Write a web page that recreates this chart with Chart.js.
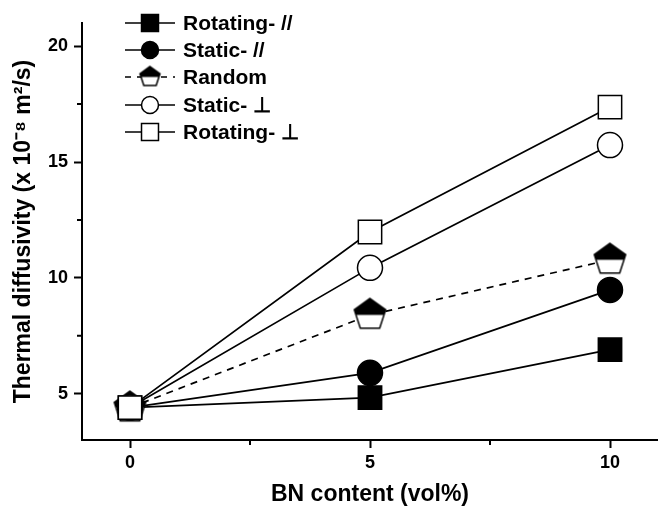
<!DOCTYPE html>
<html>
<head>
<meta charset="utf-8">
<script src="https://cdn.jsdelivr.net/npm/chart.js@4"></script>
<style>
  html, body { margin: 0; padding: 0; background: #fff; }
  #wrap { width: 658px; height: 508px; }
</style>
</head>
<body>
<div id="wrap"><canvas id="chart" width="658" height="508"></canvas></div>
<script>
// BN content (vol%)
const bnContent = [0, 5, 10]
// thermal diffusivity (x 10^-8 m2/s)
const rotatingPar = [4.4, 4.83, 6.9]
const staticPar = [4.4, 5.9, 9.48]
const randomOri = [4.4, 8.4, 10.78]
const staticPerp = [4.4, 10.43, 15.73]
const rotatingPerp = [4.4, 11.98, 17.37]

const seriesNames = ['Rotating- //', 'Static- //', 'Random', 'Static- \u22A5', 'Rotating- \u22A5']
const xTicks = [0, 2.5, 5, 7.5, 10]
const yTicks = [5, 7.5, 10, 12.5, 15, 17.5, 20]

Chart.defaults.font.family = "'Liberation Sans', Arial, sans-serif"
Chart.defaults.color = '#000'

// half-filled pentagon marker
function makePentagon(R) {
  const size = Math.ceil(R * 2 + 4)
  const c = document.createElement('canvas')
  c.width = size
  c.height = size
  const ctx = c.getContext('2d')
  const cx = size / 2, cy = size / 2
  const path = () => {
    ctx.beginPath()
    for (let k = 0; k < 5; k++) {
      const a = (-90 + 72 * k) * Math.PI / 180
      const px = cx + R * Math.cos(a), py = cy + R * Math.sin(a)
      k === 0 ? ctx.moveTo(px, py) : ctx.lineTo(px, py)
    }
    ctx.closePath()
  }
  path()
  ctx.fillStyle = '#fff'
  ctx.fill()
  ctx.save()
  ctx.beginPath()
  ctx.rect(0, 0, size, cy)
  ctx.clip()
  path()
  ctx.fillStyle = '#000'
  ctx.fill()
  ctx.restore()
  path()
  ctx.lineWidth = 1.5
  ctx.strokeStyle = '#000'
  ctx.stroke()
  return c
}

const pentBig = makePentagon(16.5)
const pentSmall = makePentagon(10.5)

const toPts = arr => arr.map((v, i) => ({ x: bnContent[i], y: v }))

const base = { borderColor: '#000', borderWidth: 1.7, pointBorderColor: '#000', pointBorderWidth: 1.5 }

const datasets = [
  { ...base, label: seriesNames[0], data: toPts(rotatingPar), pointStyle: 'rect', pointRadius: 16.5, pointBackgroundColor: '#000', order: 5 },
  { ...base, label: seriesNames[1], data: toPts(staticPar), pointStyle: 'circle', pointRadius: 12.5, pointBackgroundColor: '#000', order: 4 },
  { ...base, label: seriesNames[2], data: toPts(randomOri), pointStyle: pentBig, borderDash: [7, 6], order: 3 },
  { ...base, label: seriesNames[3], data: toPts(staticPerp), pointStyle: 'circle', pointRadius: 12.5, pointBackgroundColor: '#fff', order: 2 },
  { ...base, label: seriesNames[4], data: toPts(rotatingPerp), pointStyle: 'rect', pointRadius: 16.5, pointBackgroundColor: '#fff', order: 1 }
]

const legendMarks = [
  { pointStyle: 'rect', radius: 12, fill: '#000' },
  { pointStyle: 'circle', radius: 8.5, fill: '#000' },
  { pointStyle: pentSmall, radius: 10, fill: '#fff', dash: true },
  { pointStyle: 'circle', radius: 8.5, fill: '#fff' },
  { pointStyle: 'rect', radius: 12, fill: '#fff' }
]

const extras = {
  id: 'extras',
  afterDraw(chart) {
    const { ctx, chartArea, scales } = chart
    ctx.save()
    // minor ticks
    ctx.strokeStyle = '#000'
    ctx.lineWidth = 2
    ctx.beginPath()
    ;[2.5, 7.5].forEach(v => {
      const px = scales.x.getPixelForValue(v)
      ctx.moveTo(px, chartArea.bottom)
      ctx.lineTo(px, chartArea.bottom + 5)
    })
    ;[7.5, 12.5, 17.5].forEach(v => {
      const py = scales.y.getPixelForValue(v)
      ctx.moveTo(chartArea.left - 5, py)
      ctx.lineTo(chartArea.left, py)
    })
    ctx.stroke()

    // legend
    const x0 = 125, x1 = 175, mx = 150, tx = 183
    const rowY = [23, 50, 77, 105, 132]
    seriesNames.forEach((name, i) => {
      const y = rowY[i]
      const m = legendMarks[i]
      ctx.strokeStyle = '#000'
      ctx.lineWidth = 1.7
      ctx.setLineDash(m.dash ? [6, 6] : [])
      ctx.beginPath()
      ctx.moveTo(x0, y)
      ctx.lineTo(x1, y)
      ctx.stroke()
      ctx.setLineDash([])
      ctx.fillStyle = m.fill
      ctx.lineWidth = 1.5
      Chart.helpers.drawPoint(ctx, { pointStyle: m.pointStyle, radius: m.radius, borderWidth: 1.5, rotation: 0 }, mx, y)
      ctx.fillStyle = '#000'
      ctx.font = "bold 21px 'Liberation Sans', Arial, sans-serif"
      ctx.textBaseline = 'middle'
      ctx.textAlign = 'left'
      ctx.fillText(name, tx, y + 1)
    })
    ctx.restore()
  }
}

new Chart(document.getElementById('chart'), {
  type: 'line',
  data: { datasets },
  plugins: [extras],
  options: {
    responsive: false,
    animation: false,
    layout: { autoPadding: false, padding: { top: 23, right: 0, left: 0, bottom: 0 } },
    plugins: { legend: { display: false }, tooltip: { enabled: false } },
    scales: {
      x: {
        type: 'linear',
        min: -1,
        max: 11,
        afterBuildTicks: axis => { axis.ticks = xTicks.map(v => ({ value: v })) },
        afterFit: axis => {
          axis.height = 68
          axis.paddingLeft = 0
          axis.paddingRight = 0
        },
        ticks: {
          autoSkip: false,
          maxRotation: 0,
          padding: 4,
          font: { size: 18, weight: 'bold' },
          callback: v => (v % 5 === 0 ? String(v) : '')
        },
        grid: {
          drawOnChartArea: false,
          tickLength: 8,
          tickWidth: 2,
          tickColor: c => (c.tick && c.tick.value % 5 !== 0 ? 'rgba(0,0,0,0)' : '#000')
        },
        border: { display: true, color: '#000', width: 2 },
        title: { display: true, text: 'BN content (vol%)', font: { size: 23, weight: 'bold' }, padding: { top: 0, bottom: 0 } }
      },
      y: {
        min: 3,
        max: 21,
        afterBuildTicks: axis => { axis.ticks = yTicks.map(v => ({ value: v })) },
        afterFit: axis => {
          axis.width = 82
          axis.paddingTop = 0
          axis.paddingBottom = 0
        },
        ticks: {
          autoSkip: false,
          padding: 6,
          font: { size: 18, weight: 'bold' },
          callback: v => (v % 5 === 0 ? String(v) : '')
        },
        grid: {
          drawOnChartArea: false,
          tickLength: 8,
          tickWidth: 2,
          tickColor: c => (c.tick && c.tick.value % 5 !== 0 ? 'rgba(0,0,0,0)' : '#000')
        },
        border: { display: true, color: '#000', width: 2 },
        title: { display: true, text: 'Thermal diffusivity (x 10\u207B\u2078 m\u00B2/s)', font: { size: 23, weight: 'bold' }, padding: { top: 10, bottom: 0 } }
      }
    }
  }
})
</script>
</body>
</html>
